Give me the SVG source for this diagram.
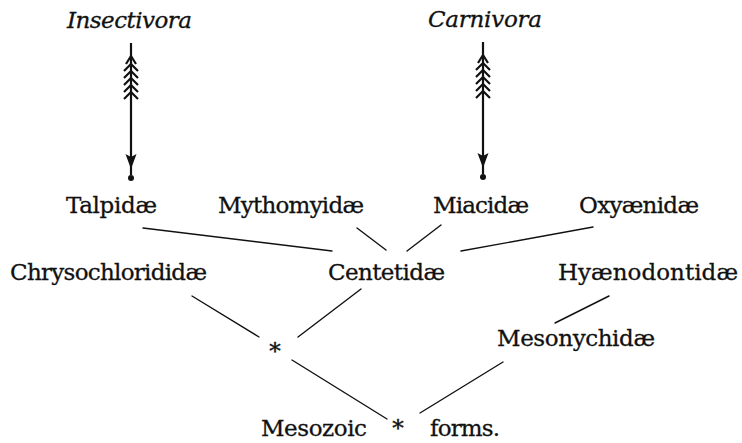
<svg xmlns="http://www.w3.org/2000/svg" width="742" height="443" viewBox="0 0 742 443">
  <defs>
    <style>
      .lbl { font-family: "DejaVu Serif", "Liberation Serif", serif; font-size: 23px; fill: #111; stroke: #111; stroke-width: 0.3; }
      .grp { font-family: "DejaVu Serif", "Liberation Serif", serif; font-size: 23px; font-style: italic; fill: #111; stroke: #111; stroke-width: 0.3; }
      .star { font-family: "DejaVu Serif", "Liberation Serif", serif; font-size: 23px; fill: #111; stroke: #111; stroke-width: 0.4; text-anchor: middle; }
      .link { stroke: #111; stroke-width: 1.4; fill: none; stroke-linecap: round; }
      .shaft { stroke: #111; stroke-width: 2.2; fill: none; }
      .fletch { stroke: #111; stroke-width: 2.2; fill: none; stroke-linejoin: miter; }
      .head { fill: #111; }
    </style>
    <!-- fletched arrow, origin at the shaft top -->
    <g id="fletched-arrow">
      <line class="shaft" x1="0" y1="0" x2="0" y2="132"/>
      <path class="fletch" d="M-5,21 L0,13 L5,21 M-7,28 L0,21 L7,28 M-7,35 L0,28 L7,35 M-7,42 L0,35 L7,42 M-7,49 L0,42 L7,49 M-7,56 L0,49 L7,56"/>
      <path class="head" d="M-5.5,111 L0,114 L5.5,111 L0,126 Z"/>
      <circle class="head" cx="0" cy="135" r="3"/>
    </g>
  </defs>

  <rect width="742" height="443" fill="#fff"/>

  <!-- ancestral arrows -->
  <g id="arrows">
    <use href="#fletched-arrow" transform="translate(131,43)"/>
    <use href="#fletched-arrow" transform="translate(483,42)"/>
  </g>

  <!-- connectors -->
  <g id="connectors">
    <line class="link" x1="143" y1="228" x2="332" y2="251"/>
    <line class="link" x1="357" y1="228" x2="386" y2="250"/>
    <line class="link" x1="441" y1="225" x2="407" y2="251"/>
    <line class="link" x1="593" y1="227" x2="461" y2="251"/>
    <line class="link" x1="192" y1="296" x2="259" y2="337"/>
    <line class="link" x1="361" y1="289" x2="298" y2="337"/>
    <line class="link" x1="609" y1="296" x2="555" y2="323"/>
    <line class="link" x1="292" y1="360" x2="387" y2="419"/>
    <line class="link" x1="503" y1="362" x2="420" y2="413"/>
  </g>

  <!-- groups -->
  <g id="insectivora"><text class="grp" x="67" y="28" textLength="125">Insectivora</text></g>
  <g id="carnivora"><text class="grp" x="428" y="27" textLength="114">Carnivora</text></g>

  <!-- families -->
  <g id="talpidae"><text class="lbl" x="66" y="213" textLength="91">Talpidæ</text></g>
  <g id="mythomyidae"><text class="lbl" x="218" y="213" textLength="146">Mythomyidæ</text></g>
  <g id="miacidae"><text class="lbl" x="433" y="213" textLength="96">Miacidæ</text></g>
  <g id="oxyaenidae"><text class="lbl" x="579" y="213" textLength="120">Oxyænidæ</text></g>
  <g id="chrysochlorididae"><text class="lbl" x="10" y="280" textLength="197">Chrysochlorididæ</text></g>
  <g id="centetidae"><text class="lbl" x="328" y="280" textLength="117">Centetidæ</text></g>
  <g id="hyaenodontidae"><text class="lbl" x="558" y="280" textLength="180">Hyænodontidæ</text></g>
  <g id="mesonychidae"><text class="lbl" x="497" y="346" textLength="158">Mesonychidæ</text></g>

  <!-- common ancestors -->
  <g id="ancestor-insectivore"><text class="star" x="275" y="359">*</text></g>
  <g id="mesozoic-forms">
    <text class="lbl" x="261" y="436" textLength="106">Mesozoic</text>
    <text class="star" x="398" y="436">*</text>
    <text class="lbl" x="430" y="436" textLength="70">forms.</text>
  </g>
</svg>
